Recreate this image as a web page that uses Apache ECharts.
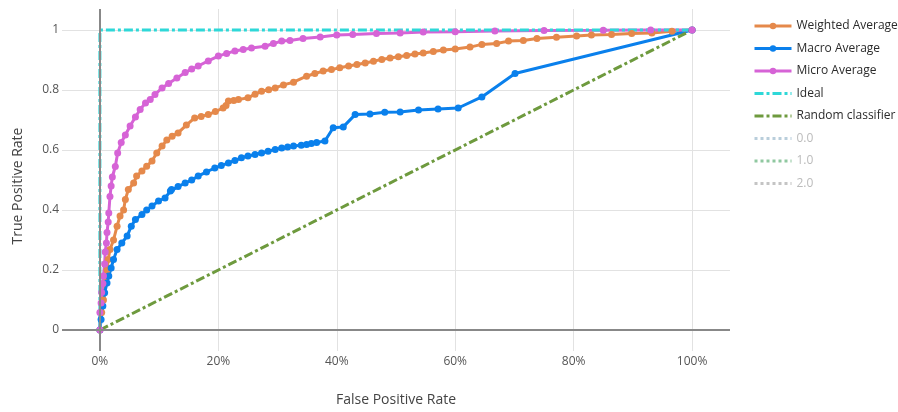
<!DOCTYPE html>
<html>
<head>
<meta charset="utf-8">
<script src="https://cdn.jsdelivr.net/npm/echarts@6/dist/echarts.min.js"></script>
<style>
  html, body { margin: 0; padding: 0; background: #fff; }
  #chart { width: 898px; height: 412px; }
</style>
</head>
<body>
<div id="chart"></div>
<script>
// ROC curves: averaged over classes, plus reference lines.
const seriesNames = ['Weighted Average', 'Macro Average', 'Micro Average', 'Ideal', 'Random classifier'];
const hiddenClassNames = ['0.0', '1.0', '2.0'];

const xTicks = [0, 0.2, 0.4, 0.6, 0.8, 1];
const yTicks = [0, 0.2, 0.4, 0.6, 0.8, 1];

const weightedFpr = [0, .003, .006, .009, .012, .014, .017, .023, .029, .034, .04, .043, .048, .057, .062, .071, .079, .088, .096, .105, .113, .122, .132, .146, .16, .171, .183, .195, .208, .213, .217, .226, .234, .25, .262, .273, .285, .296, .31, .327, .349, .363, .377, .391, .405, .42, .434, .448, .462, .476, .49, .504, .518, .532, .546, .563, .58, .6, .625, .645, .67, .69, .715, .738, .771, .805, .83, .864, .898, .932, .966, 1];
const weightedTpr = [0, .058, .10, .158, .20, .235, .268, .30, .346, .38, .40, .435, .468, .49, .513, .53, .546, .563, .59, .613, .633, .646, .657, .683, .707, .712, .718, .728, .74, .748, .763, .765, .768, .774, .786, .796, .801, .807, .817, .826, .846, .855, .863, .868, .874, .88, .885, .89, .896, .902, .907, .911, .915, .92, .923, .928, .933, .937, .943, .952, .955, .963, .965, .972, .976, .98, .983, .985, .988, .99, .996, 1];

const macroFpr = [0, .002, .005, .008, .012, .015, .019, .023, .029, .037, .046, .053, .06, .071, .079, .088, .099, .11, .119, .121, .132, .144, .155, .166, .18, .194, .205, .217, .228, .239, .25, .262, .273, .284, .296, .307, .317, .327, .34, .349, .357, .366, .38, .394, .411, .431, .456, .481, .507, .538, .571, .605, .645, .701, 1];
const macroTpr = [0, .035, .08, .124, .157, .18, .207, .235, .268, .29, .313, .346, .368, .385, .40, .413, .43, .44, .463, .468, .478, .49, .50, .513, .527, .54, .548, .557, .565, .574, .58, .585, .59, .596, .602, .607, .61, .613, .616, .618, .622, .625, .63, .674, .677, .718, .72, .726, .727, .733, .737, .74, .777, .855, 1];

const microFpr = [0, 0, .002, .003, .005, .006, .008, .009, .011, .012, .014, .015, .017, .019, .021, .026, .03, .036, .043, .051, .06, .068, .077, .085, .093, .105, .116, .13, .144, .155, .166, .183, .2, .214, .228, .242, .256, .279, .293, .307, .321, .343, .372, .4, .427, .467, .507, .546, .6, .667, .75, .85, .93, 1];
const microTpr = [0, .058, .09, .125, .155, .18, .22, .26, .29, .325, .36, .39, .445, .48, .51, .545, .59, .625, .65, .68, .71, .735, .757, .768, .785, .807, .822, .84, .858, .87, .88, .897, .913, .922, .93, .935, .94, .946, .955, .963, .965, .972, .977, .983, .985, .988, .99, .993, .994, .997, .998, .999, 1, 1];

const idealFpr = [0, 0, 1];
const idealTpr = [0, 1, 1];
const randomFpr = [0, 1];
const randomTpr = [0, 1];

const zip = (xs, ys) => xs.map((x, i) => [x, ys[i]]);

const FONT = '"Open Sans", "Noto Sans", sans-serif';
const colors = {
  weighted: '#E5894B',
  macro: '#0A80EC',
  micro: '#D663D6',
  ideal: '#2ED8D8',
  random: '#6E9A3E',
  cls0: '#B9CEDB',
  cls1: '#8FC8A0',
  cls2: '#C4C4C4'
};

function curve(name, data, color) {
  return {
    name, type: 'line', data,
    symbol: 'circle', symbolSize: 7,
    lineStyle: { width: 3, color },
    itemStyle: { color },
    emphasis: { disabled: true }
  };
}

// legend entries for plain lines show no marker
const lineOnly = { itemStyle: { opacity: 0 } };

const chart = echarts.init(document.getElementById('chart'), null, { renderer: 'canvas' });

chart.setOption({
  animation: false,
  backgroundColor: '#fff',
  textStyle: { fontFamily: FONT },
  grid: { left: 62, right: 168, top: 9, bottom: 60 },
  legend: {
    orient: 'vertical',
    left: 748, top: 15,
    itemWidth: 37, itemHeight: 8, itemGap: 10.5,
    lineStyle: { width: 3 },
    textStyle: { fontFamily: FONT, fontSize: 12, color: '#2b2b2b' },
    selectedMode: false,
    data: [
      { name: seriesNames[0] },
      { name: seriesNames[1] },
      { name: seriesNames[2] },
      Object.assign({ name: seriesNames[3] }, lineOnly),
      Object.assign({ name: seriesNames[4] }, lineOnly)
    ].concat(hiddenClassNames.map(n => Object.assign(
      { name: n, textStyle: { color: '#BBBBBB' } }, lineOnly)))
  },
  xAxis: {
    type: 'value', min: -0.064, max: 1.064,
    name: 'False Positive Rate', nameLocation: 'middle', nameGap: 42,
    nameTextStyle: { fontFamily: FONT, fontSize: 14, color: '#444' },
    axisLine: { show: false },
    axisTick: { show: false, customValues: xTicks },
    axisLabel: {
      customValues: xTicks, margin: 5,
      fontFamily: FONT, fontSize: 12, color: '#555',
      formatter: v => Math.round(v * 100) + '%'
    },
    splitLine: { show: true, lineStyle: { color: '#E2E2E2', width: 1 } }
  },
  yAxis: {
    type: 'value', min: -0.07, max: 1.07,
    name: 'True Positive Rate', nameLocation: 'middle', nameGap: 37,
    nameTextStyle: { fontFamily: FONT, fontSize: 14, color: '#444', padding: [0, 12, 0, 0] },
    axisLine: { show: false },
    axisTick: { show: false, customValues: yTicks },
    axisLabel: {
      customValues: yTicks, margin: 3,
      fontFamily: FONT, fontSize: 12, color: '#555',
      formatter: v => String(+v.toFixed(1))
    },
    splitLine: { show: true, lineStyle: { color: '#E2E2E2', width: 1 } }
  },
  series: [
    {
      // zero lines for both axes
      name: 'zero', type: 'line', data: [],
      markLine: {
        silent: true, symbol: 'none', label: { show: false },
        lineStyle: { color: '#888', width: 2, type: 'solid' },
        data: [{ xAxis: 0 }, { yAxis: 0 }]
      }
    },
    curve(seriesNames[0], zip(weightedFpr, weightedTpr), colors.weighted),
    curve(seriesNames[1], zip(macroFpr, macroTpr), colors.macro),
    curve(seriesNames[2], zip(microFpr, microTpr), colors.micro),
    {
      name: seriesNames[3], type: 'line', data: zip(idealFpr, idealTpr),
      symbol: 'none', color: colors.ideal,
      lineStyle: { width: 3, color: colors.ideal, type: [9, 3, 3, 3] },
      emphasis: { disabled: true }
    },
    {
      name: seriesNames[4], type: 'line', data: zip(randomFpr, randomTpr),
      symbol: 'none', color: colors.random,
      lineStyle: { width: 3, color: colors.random, type: [9, 3, 3, 3] },
      emphasis: { disabled: true }
    },
    ...hiddenClassNames.map((n, i) => ({
      name: n, type: 'line', data: [], symbol: 'none',
      color: colors['cls' + i],
      lineStyle: { width: 3, color: colors['cls' + i], type: [3, 3] }
    }))
  ]
});
</script>
</body>
</html>
